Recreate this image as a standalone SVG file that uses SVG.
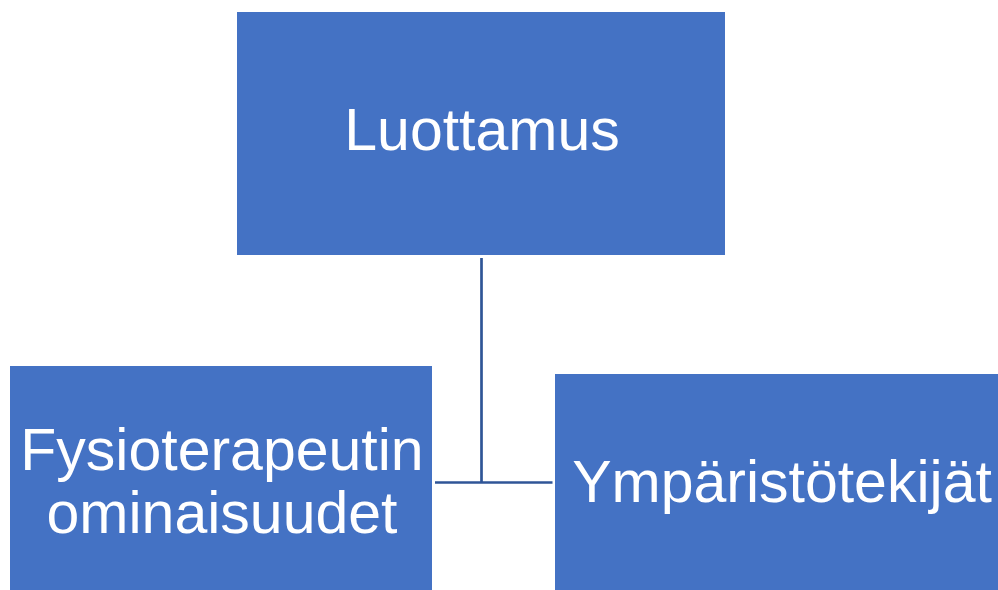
<svg xmlns="http://www.w3.org/2000/svg" width="998" height="590" viewBox="0 0 998 590">
<style>
.box{fill:#4472C4;}
.lbl{fill:#FFFFFF;font-family:"Liberation Sans",Arial,sans-serif;font-size:59px;text-anchor:middle;}
.conn{stroke:#2F5597;stroke-width:2.7;fill:none;}
</style>
<rect width="998" height="590" fill="#FFFFFF"/>
<g id="connectors">
<line class="conn" x1="481.5" y1="258" x2="481.5" y2="482.5"/>
<line class="conn" x1="435" y1="482.5" x2="552.5" y2="482.5"/>
</g>
<g id="node-luottamus">
<rect class="box" x="237" y="12" width="488" height="243"/>
<text class="lbl" x="482" y="150">Luottamus</text>
</g>
<g id="node-fysioterapeutin">
<rect class="box" x="10" y="366" width="422" height="224"/>
<text class="lbl" x="222" y="470">Fysioterapeutin</text>
<text class="lbl" x="222" y="533">ominaisuudet</text>
</g>
<g id="node-ymparistotekijat">
<rect class="box" x="555" y="374" width="443" height="216"/>
<text class="lbl" x="782" y="502">Ympäristötekijät</text>
</g>
</svg>
